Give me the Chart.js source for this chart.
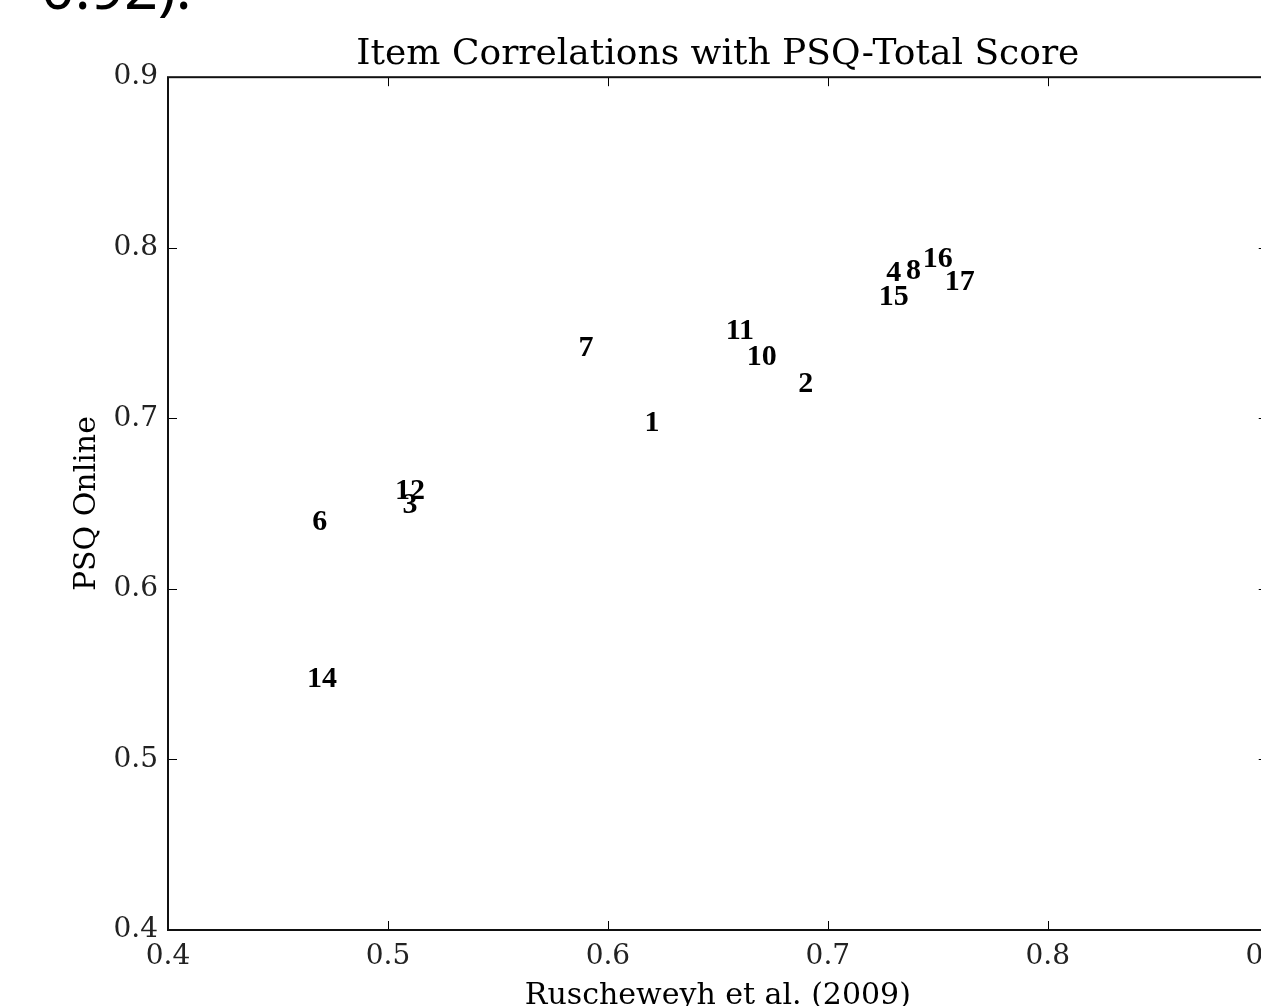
<!DOCTYPE html>
<html>
<head>
<meta charset="utf-8">
<script src="https://cdn.jsdelivr.net/npm/chart.js@4/dist/chart.umd.min.js"></script>
<style>
  html, body { margin: 0; padding: 0; background: #fff; overflow: hidden; width: 1261px; height: 1006px; }
  #wrap { position: absolute; left: 0; top: 0; width: 1300px; height: 1030px; }
  #snippet { position: absolute; left: 41px; top: -43px; font-family: "Noto Sans", sans-serif; font-size: 59px; line-height: 1; color: #000; white-space: nowrap; }
</style>
</head>
<body>
<div id="snippet">0.92).</div>
<div id="wrap"><canvas id="myChart"></canvas></div>
<script>
// item numbers and their correlations
const items = ["1", "2", "3", "4", "6", "7", "8", "10", "11", "12", "14", "15", "16", "17"];
const ruscheweyh = [0.620, 0.690, 0.510, 0.730, 0.469, 0.590, 0.739, 0.670, 0.660, 0.510, 0.470, 0.730, 0.750, 0.760];
const psqOnline = [0.697, 0.720, 0.649, 0.785, 0.639, 0.741, 0.786, 0.736, 0.751, 0.657, 0.547, 0.771, 0.793, 0.780];
const tickValues = [0.4, 0.5, 0.6, 0.7, 0.8, 0.9];

const serif = "'DejaVu Serif', serif";

const points = items.map((it, i) => ({x: ruscheweyh[i], y: psqOnline[i]}));

// draw item numbers where the points are
const itemLabels = {
  id: "itemLabels",
  afterDatasetsDraw(chart) {
    const ctx = chart.ctx;
    const meta = chart.getDatasetMeta(0);
    ctx.save();
    ctx.fillStyle = "#000";
    ctx.font = "bold 30px 'Liberation Serif', serif";
    ctx.textAlign = "center";
    ctx.textBaseline = "middle";
    meta.data.forEach((pt, i) => {
      ctx.fillText(items[i], pt.x, pt.y);
    });
    ctx.restore();
  }
};

// matplotlib style box with inward ticks
const frame = {
  id: "frame",
  afterDraw(chart) {
    const ctx = chart.ctx;
    const a = chart.chartArea;
    const xs = chart.scales.x, ys = chart.scales.y;
    ctx.save();
    ctx.strokeStyle = "#000";
    ctx.lineWidth = 1;
    tickValues.forEach(v => {
      const px = Math.round(xs.getPixelForValue(v)) + 0.5;
      ctx.beginPath();
      ctx.moveTo(px, a.bottom); ctx.lineTo(px, a.bottom - 9);
      ctx.moveTo(px, a.top); ctx.lineTo(px, a.top + 9);
      ctx.stroke();
      const py = Math.round(ys.getPixelForValue(v)) + 0.5;
      ctx.beginPath();
      ctx.moveTo(a.left, py); ctx.lineTo(a.left + 9, py);
      ctx.moveTo(a.right, py); ctx.lineTo(a.right - 9, py);
      ctx.stroke();
    });
    ctx.lineWidth = 2;
    ctx.strokeStyle = "#111";
    ctx.strokeRect(a.left, a.top, a.right - a.left, a.bottom - a.top);
    ctx.restore();
  }
};

const config = {
  type: "scatter",
  data: {
    datasets: [{
      data: points,
      pointRadius: 0,
      pointHoverRadius: 0,
    }],
  },
  options: {
    responsive: true,
    maintainAspectRatio: false,
    animation: false,
    devicePixelRatio: 1,
    layout: { padding: { left: 0, right: 30, top: 0, bottom: 0 } },
    plugins: {
      legend: { display: false },
      tooltip: { enabled: false },
      title: {
        display: true,
        text: "Item Correlations with PSQ-Total Score",
        fullSize: false,
        color: "#000",
        font: { family: serif, size: 36, weight: "normal" },
        padding: { top: 33, bottom: 1 },
      },
    },
    scales: {
      x: {
        type: "linear",
        min: 0.4,
        max: 0.9,
        afterBuildTicks(scale) { scale.ticks = tickValues.map(v => ({value: v})); },
        afterFit(scale) { scale.height = 100; },
        grid: { display: false, drawTicks: false },
        border: { display: false },
        ticks: {
          color: "#222",
          padding: 10,
          maxRotation: 0,
          font: { family: serif, size: 28 },
          callback: v => v.toFixed(1),
        },
        title: {
          display: true,
          text: "Ruscheweyh et al. (2009)",
          color: "#000",
          font: { family: serif, size: 30 },
          padding: { top: 0, bottom: 16 },
        },
      },
      y: {
        type: "linear",
        min: 0.4,
        max: 0.9,
        afterBuildTicks(scale) { scale.ticks = tickValues.map(v => ({value: v})); },
        afterFit(scale) { scale.width = 168; },
        grid: { display: false, drawTicks: false },
        border: { display: false },
        ticks: {
          color: "#222",
          padding: 10,
          font: { family: serif, size: 28 },
          callback: v => v.toFixed(1),
        },
        title: {
          display: true,
          text: "PSQ Online",
          color: "#000",
          font: { family: serif, size: 30 },
          padding: { top: 69, bottom: 0 },
        },
      },
    },
  },
  plugins: [itemLabels, frame],
};

const ctx = document.getElementById("myChart");
const myChart = new Chart(ctx, config);
</script>
</body>
</html>
